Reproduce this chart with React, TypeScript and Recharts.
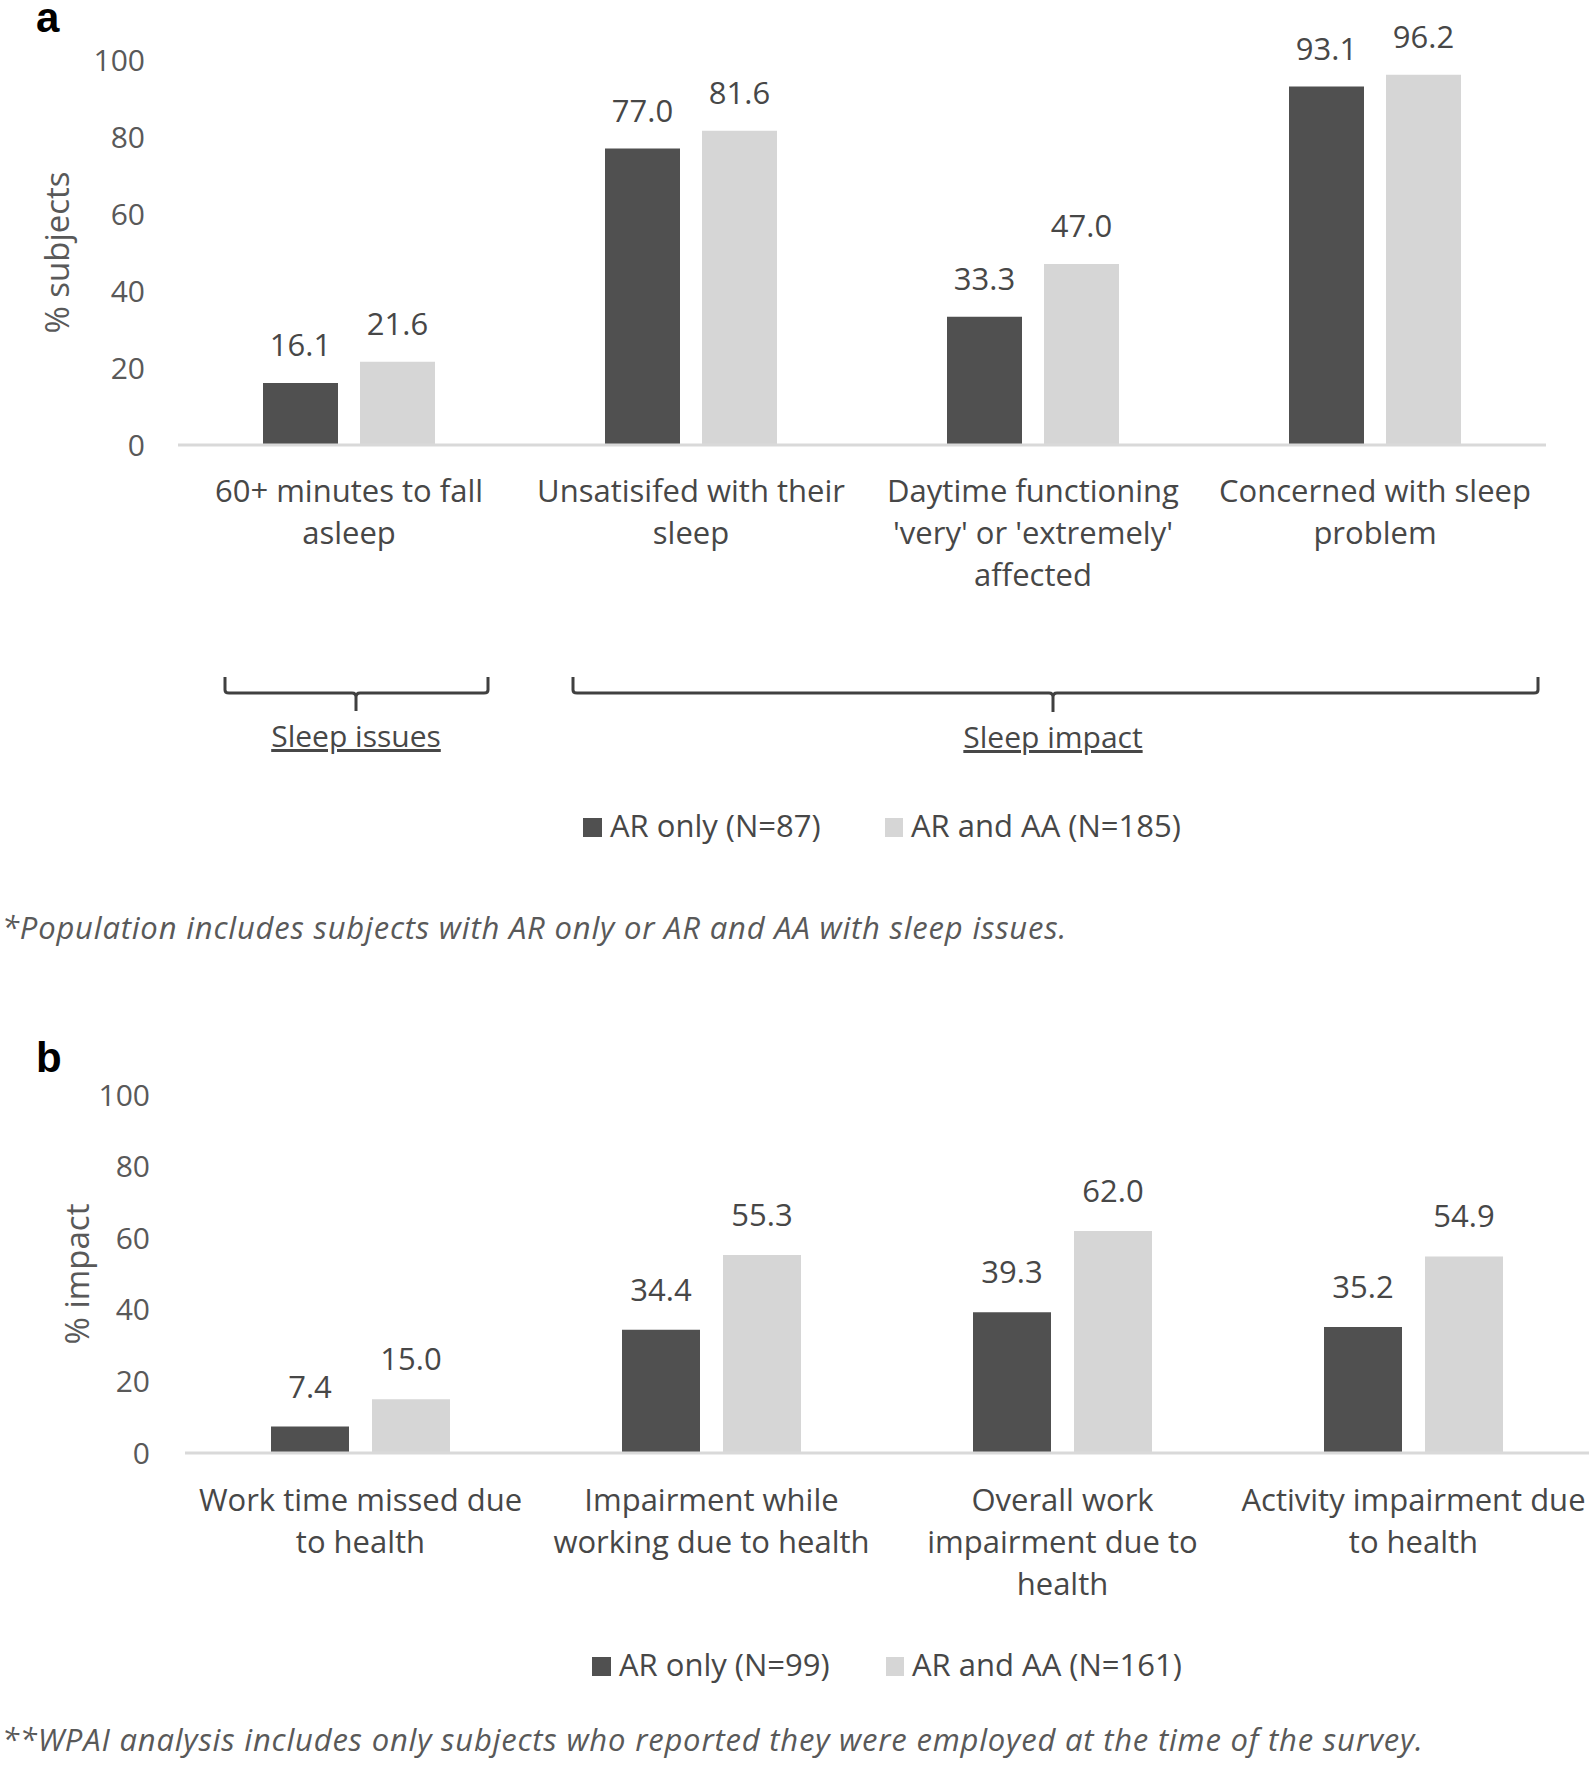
import React from 'react';
import { BarChart, Bar, XAxis, YAxis, LabelList } from 'recharts';

// panel a - sleep
const sleepCategories = [
  ['60+ minutes to fall', 'asleep'],
  ['Unsatisifed with their', 'sleep'],
  ['Daytime functioning', "'very' or 'extremely'", 'affected'],
  ['Concerned with sleep', 'problem'],
];
const sleepArOnly = [16.1, 77.0, 33.3, 93.1];
const sleepArAa = [21.6, 81.6, 47.0, 96.2];
const sleepSeries = ['AR only (N=87)', 'AR and AA (N=185)'];

// panel b - WPAI
const workCategories = [
  ['Work time missed due', 'to health'],
  ['Impairment while', 'working due to health'],
  ['Overall work', 'impairment due to', 'health'],
  ['Activity impairment due', 'to health'],
];
const workArOnly = [7.4, 34.4, 39.3, 35.2];
const workArAa = [15.0, 55.3, 62.0, 54.9];
const workSeries = ['AR only (N=99)', 'AR and AA (N=161)'];

const yTicks = [0, 20, 40, 60, 80, 100];

const FONT = '"Open Sans", sans-serif';
const DARK = '#505050';
const LIGHT = '#d6d6d6';
const AXIS_TXT = '#595959';
const TXT = '#474747';

const buildRows = (cats: string[][], a: number[], b: number[]) =>
  cats.map((lines, i) => ({ name: lines.join('|'), arOnly: a[i], arAa: b[i] }));

const CategoryTick = (props: any) => {
  const { x, y, payload, firstDy } = props;
  const lines = String(payload.value).split('|');
  return (
    <text x={x} y={y} textAnchor="middle" fill={TXT} fontSize={31} fontFamily={FONT}>
      {lines.map((l, i) => (
        <tspan key={i} x={x} dy={i === 0 ? firstDy : 42}>{l}</tspan>
      ))}
    </text>
  );
};

const YTitle = (props: any) => {
  const vb = props.viewBox || {};
  const cx = props.cx;
  const cy = vb.y + vb.height / 2;
  return (
    <text x={cx} y={cy} transform={`rotate(-90, ${cx}, ${cy})`} textAnchor="middle"
      dominantBaseline="central" fill={AXIS_TXT} fontSize={33} fontFamily={FONT}>
      {props.title}
    </text>
  );
};

const fmt = (v: any) => Number(v).toFixed(1);

function Chart({ rows, series, width, height, top, right, yWidth, tickMargin, barSize, barGap, labelDy, title, titleX, labelOffset, xAxisH }: any) {
  return (
    <BarChart width={width} height={height} data={rows}
      margin={{ top, right, left: 0, bottom: 0 }} barGap={barGap}>
      <XAxis dataKey="name" height={xAxisH} interval={0} tickLine={false}
        axisLine={{ stroke: '#d9d9d9', strokeWidth: 3 }}
        tick={(p: any) => <CategoryTick {...p} firstDy={labelDy} />} />
      <YAxis domain={[0, 100]} ticks={yTicks} interval={0} width={yWidth}
        axisLine={false} tickLine={false} tickMargin={tickMargin}
        tick={{ fill: AXIS_TXT, fontSize: 30, fontFamily: FONT }}
        label={{ value: title, content: (p: any) => <YTitle {...p} cx={titleX} title={title} /> }} />
      <Bar dataKey="arOnly" name={series[0]} fill={DARK} barSize={barSize} isAnimationActive={false}>
        <LabelList dataKey="arOnly" position="top" offset={labelOffset} formatter={fmt}
          fill={TXT} fontSize={31} fontFamily={FONT} />
      </Bar>
      <Bar dataKey="arAa" name={series[1]} fill={LIGHT} barSize={barSize} isAnimationActive={false}>
        <LabelList dataKey="arAa" position="top" offset={labelOffset} formatter={fmt}
          fill={TXT} fontSize={31} fontFamily={FONT} />
      </Bar>
    </BarChart>
  );
}

const LegendRow = ({ series, y, x0, x1 }: any) => (
  <g fontFamily={FONT} fontSize={31} fill={TXT}>
    <rect x={x0} y={y - 19} width={19} height={19} fill={DARK} />
    <text x={x0 + 27} y={y}>{series[0]}</text>
    <rect x={x1} y={y - 19} width={18} height={19} fill={LIGHT} />
    <text x={x1 + 26} y={y}>{series[1]}</text>
  </g>
);

const bracePath = (x0: number, x1: number, cx: number, yTop: number, yLine: number, yTip: number) =>
  `M${x0} ${yTop} V${yLine - 3} Q${x0} ${yLine} ${x0 + 4} ${yLine} H${cx - 4} Q${cx} ${yLine} ${cx} ${yLine + 4} V${yTip} ` +
  `M${cx} ${yLine + 4} Q${cx} ${yLine} ${cx + 4} ${yLine} H${x1 - 4} Q${x1} ${yLine} ${x1} ${yLine - 3} V${yTop}`;

const panelLetter = (top: number): React.CSSProperties => ({
  position: 'absolute', left: 36, top, fontFamily: '"Liberation Sans", Arial, sans-serif',
  fontWeight: 'bold', fontSize: 42, lineHeight: '26px', color: '#000',
});

export default function App() {
  const sleepRows = buildRows(sleepCategories, sleepArOnly, sleepArAa);
  const workRows = buildRows(workCategories, workArOnly, workArAa);
  return (
    <div style={{ position: 'absolute', left: 0, top: 0, width: 1595, height: 1766, background: '#fff', overflow: 'hidden' }}>
      <div style={{ position: 'absolute', left: 0, top: 0 }}>
        <Chart rows={sleepRows} series={sleepSeries} width={1595} height={600} top={60} right={49}
          xAxisH={155} yWidth={178} tickMargin={27} barSize={75} barGap={22} labelDy={49}
          labelOffset={27} title="% subjects" titleX={56} />
      </div>
      <div style={{ position: 'absolute', left: 0, top: 1000 }}>
        <Chart rows={workRows} series={workSeries} width={1595} height={620} top={95} right={6}
          xAxisH={167} yWidth={185} tickMargin={29} barSize={78} barGap={23} labelDy={50}
          labelOffset={29} title="% impact" titleX={76} />
      </div>
      <svg width={1595} height={1766} style={{ position: 'absolute', left: 0, top: 0, pointerEvents: 'none' }}>
        <path d={bracePath(225, 488, 356, 677, 693, 711)} stroke="#404040" strokeWidth={3} fill="none" />
        <path d={bracePath(573, 1538, 1053, 677, 693, 712)} stroke="#404040" strokeWidth={3} fill="none" />
        <text x={356} y={747} textAnchor="middle" fontFamily={FONT} fontSize={30} fill={TXT} textDecoration="underline">Sleep issues</text>
        <text x={1053} y={748} textAnchor="middle" fontFamily={FONT} fontSize={30} fill={TXT} textDecoration="underline">Sleep impact</text>

        <LegendRow series={sleepSeries} y={837} x0={583} x1={885} />
        <LegendRow series={workSeries} y={1676} x0={592} x1={886} />

        <text x={2} y={939} fontFamily={FONT} fontStyle="italic" fontSize={31} letterSpacing={0.8} fill={AXIS_TXT}>
          *Population includes subjects with AR only or AR and AA with sleep issues.
        </text>
        <text x={2} y={1751} fontFamily={FONT} fontStyle="italic" fontSize={31} letterSpacing={0.8} fill={AXIS_TXT}>
          **WPAI analysis includes only subjects who reported they were employed at the time of the survey.
        </text>
      </svg>
      <div style={panelLetter(5)}>a</div>
      <div style={panelLetter(1045)}>b</div>
    </div>
  );
}
